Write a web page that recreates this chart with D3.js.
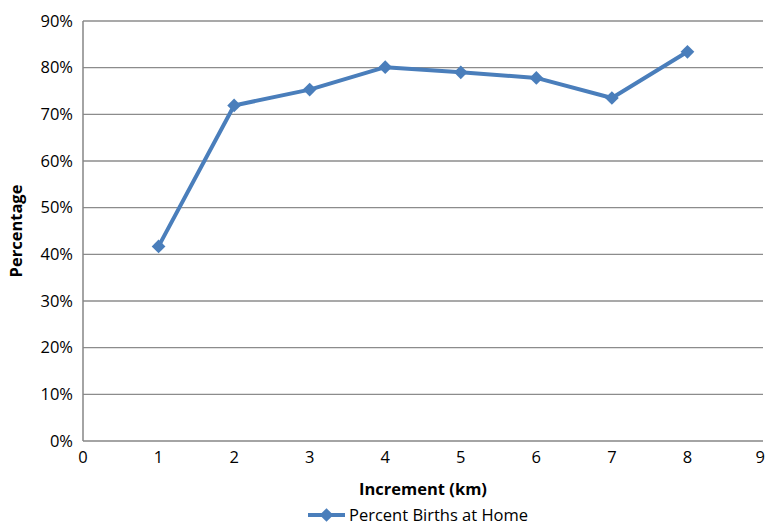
<!DOCTYPE html>
<html><head><meta charset="utf-8">
<script src="https://cdn.jsdelivr.net/npm/d3@7"></script>
<style>body{margin:0;background:#fff;} text{font-family:"Open Sans","Liberation Sans",sans-serif;}</style>
</head><body><svg id="c" width="766" height="525"></svg>
<script>
const xValues = [1, 2, 3, 4, 5, 6, 7, 8];
const percentHome = [41.7, 71.9, 75.3, 80.1, 79.0, 77.8, 73.5, 83.4];
const xTicks = [0, 1, 2, 3, 4, 5, 6, 7, 8, 9];
const yTicks = [0, 10, 20, 30, 40, 50, 60, 70, 80, 90];
const seriesName = "Percent Births at Home";

(function () {
const svg = d3.select("#c");
const pLeft = 83, pRight = 763, pTop = 21, pBottom = 441;
const x = d3.scaleLinear().domain([0, 9]).range([pLeft, pRight]);
const y = d3.scaleLinear().domain([0, 90]).range([pBottom, pTop]);
const fs = 16.5;

// gridlines
svg.append("g").selectAll("line").data(yTicks.filter(d => d > 0)).join("line")
  .attr("x1", pLeft).attr("x2", pRight)
  .attr("y1", d => y(d)).attr("y2", d => y(d))
  .attr("stroke", "#8c8c8c").attr("stroke-width", 1.3);

// axes lines
svg.append("line").attr("x1", pLeft).attr("x2", pLeft).attr("y1", pTop).attr("y2", pBottom)
  .attr("stroke", "#868686").attr("stroke-width", 1.5);
svg.append("line").attr("x1", pLeft).attr("x2", pRight).attr("y1", pBottom).attr("y2", pBottom)
  .attr("stroke", "#868686").attr("stroke-width", 1.5);

// y tick labels
svg.append("g").selectAll("text").data(yTicks).join("text")
  .attr("x", pLeft - 10).attr("y", d => y(d)).attr("dy", "0.35em")
  .attr("text-anchor", "end").attr("font-size", fs).attr("fill", "#000")
  .text(d => d + "%");

// x tick labels (last one kept inside the window)
svg.append("g").selectAll("text").data(xTicks).join("text")
  .attr("x", d => d === 9 ? 765 : x(d)).attr("y", pBottom + 22)
  .attr("text-anchor", d => d === 9 ? "end" : "middle").attr("font-size", fs).attr("fill", "#000")
  .text(d => d);

// axis titles
svg.append("text").attr("x", 423).attr("y", 495).attr("text-anchor", "middle")
  .attr("font-size", fs).attr("font-weight", "bold").text("Increment (km)");
svg.append("text").attr("transform", "translate(22,231) rotate(-90)").attr("text-anchor", "middle")
  .attr("font-size", fs).attr("font-weight", "bold").text("Percentage");

const color = "#4a7ebb";
const pts = xValues.map((d, i) => [d, percentHome[i]]);
svg.append("path").datum(pts)
  .attr("d", d3.line().x(d => x(d[0])).y(d => y(d[1])))
  .attr("fill", "none").attr("stroke", color).attr("stroke-width", 4).attr("stroke-linejoin", "round");

const diamond = d3.symbol().type(d3.symbolDiamond2).size(120);
svg.append("g").selectAll("path").data(pts).join("path")
  .attr("transform", d => `translate(${x(d[0])},${y(d[1])})`)
  .attr("d", diamond).attr("fill", color);

// legend
const ly = 515;
svg.append("line").attr("x1", 308).attr("x2", 345).attr("y1", ly).attr("y2", ly)
  .attr("stroke", color).attr("stroke-width", 4);
svg.append("path").attr("transform", `translate(326.5,${ly})`).attr("d", diamond).attr("fill", color);
svg.append("text").attr("x", 349).attr("y", ly + 6)
  .attr("font-size", fs).attr("fill", "#000").text(seriesName);
})();
</script>
</body></html>
